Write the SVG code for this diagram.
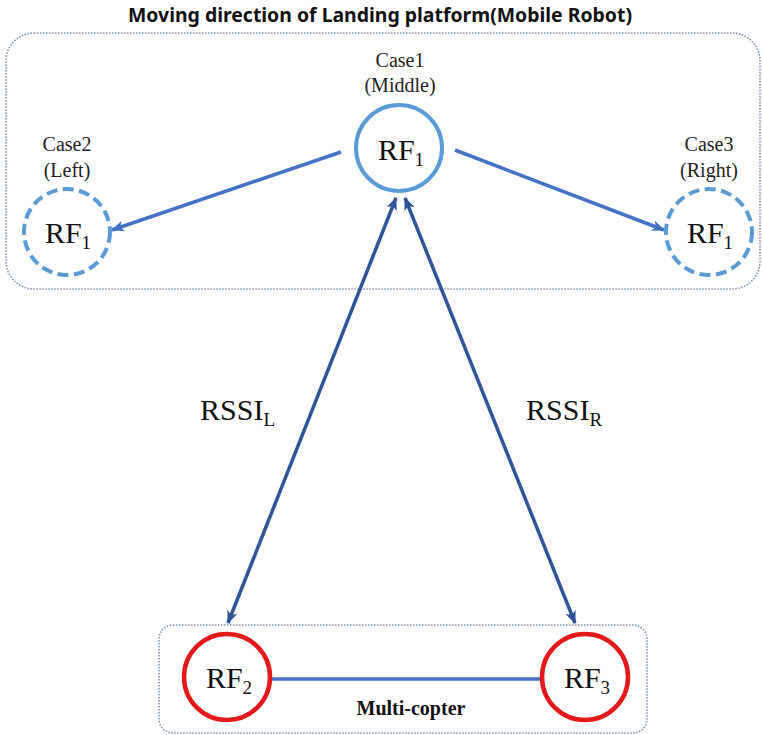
<svg xmlns="http://www.w3.org/2000/svg" width="763" height="735" viewBox="0 0 763 735">
<style>
.frame{fill:none;stroke:#7f8fae;stroke-width:1.6;stroke-dasharray:1.5 1.5}
.title{font-family:"Noto Sans","Liberation Sans",sans-serif;font-weight:bold;font-size:19px;fill:#111}
.lbl{font-family:"Liberation Serif",serif;font-size:20px;fill:#222;text-anchor:middle}
.rf{font-family:"Liberation Serif",serif;font-size:30px;fill:#111;text-anchor:middle}
.rssi{font-family:"Liberation Serif",serif;font-size:30px;fill:#111}
.sub{font-size:19px}
.solid{fill:none;stroke:#5b9bd5;stroke-width:4}
.dash{fill:none;stroke:#5b9bd5;stroke-width:4;stroke-dasharray:11 5.5}
.red{fill:none;stroke:#e3191b;stroke-width:4.5}
.move{stroke:#4472c4;stroke-width:3.5;fill:none}
.sig{stroke:#2f5597;stroke-width:3.5;fill:none}
.mc{font-family:"Liberation Serif",serif;font-weight:bold;font-size:20px;fill:#111;text-anchor:middle}
</style>
<defs>
<marker id="ahB" viewBox="0 0 12 10" refX="11" refY="5" markerWidth="13" markerHeight="11" markerUnits="userSpaceOnUse" orient="auto-start-reverse">
<path d="M0,0 L12,5 L0,10 L3,5 z" fill="#4472c4"/>
</marker>
<marker id="ahD" viewBox="0 0 12 10" refX="11" refY="5" markerWidth="13" markerHeight="11" markerUnits="userSpaceOnUse" orient="auto-start-reverse">
<path d="M0,0 L12,5 L0,10 L3,5 z" fill="#2f5597"/>
</marker>
</defs>
<rect width="763" height="735" fill="#fff"/>
<text class="title" x="380" y="22" text-anchor="middle" textLength="504" lengthAdjust="spacingAndGlyphs">Moving direction of Landing platform(Mobile Robot)</text>
<g id="platform">
<rect class="frame" x="6" y="33" width="754" height="256" rx="28"/>
</g>
<g id="multicopter">
<rect class="frame" x="159" y="625" width="488" height="108" rx="14"/>
<text class="mc" x="411" y="715">Multi-copter</text>
</g>
<g id="connectors">
<line class="move" x1="341" y1="152" x2="112" y2="230" marker-end="url(#ahB)"/>
<line class="move" x1="455" y1="150" x2="664" y2="230" marker-end="url(#ahB)"/>
<line class="sig" x1="228" y1="623" x2="396" y2="198" marker-start="url(#ahD)" marker-end="url(#ahD)"/>
<line class="sig" x1="405" y1="198" x2="575" y2="623" marker-start="url(#ahD)" marker-end="url(#ahD)"/>
<line class="move" x1="272" y1="679" x2="541" y2="679" stroke-width="3"/>
</g>
<g id="case1">
<text class="lbl" x="400" y="67">Case1</text>
<text class="lbl" x="400" y="92">(Middle)</text>
<circle class="solid" cx="399" cy="148" r="43"/>
<text class="rf" x="401" y="160">RF<tspan class="sub" dy="6">1</tspan></text>
</g>
<g id="case2">
<text class="lbl" x="67" y="151">Case2</text>
<text class="lbl" x="67" y="177">(Left)</text>
<circle class="dash" cx="67" cy="232" r="43"/>
<text class="rf" x="68" y="243">RF<tspan class="sub" dy="6">1</tspan></text>
</g>
<g id="case3">
<text class="lbl" x="709" y="151">Case3</text>
<text class="lbl" x="709" y="177">(Right)</text>
<circle class="dash" cx="709" cy="232" r="43"/>
<text class="rf" x="710" y="243">RF<tspan class="sub" dy="6">1</tspan></text>
</g>
<g id="rssiL">
<text class="rssi" x="200" y="420">RSSI<tspan class="sub" dy="6">L</tspan></text>
</g>
<g id="rssiR">
<text class="rssi" x="526" y="420">RSSI<tspan class="sub" dy="6">R</tspan></text>
</g>
<g id="rf2">
<circle class="red" cx="227" cy="677" r="43"/>
<text class="rf" x="229" y="688">RF<tspan class="sub" dy="6">2</tspan></text>
</g>
<g id="rf3">
<circle class="red" cx="585" cy="677" r="43"/>
<text class="rf" x="587" y="688">RF<tspan class="sub" dy="6">3</tspan></text>
</g>
</svg>
